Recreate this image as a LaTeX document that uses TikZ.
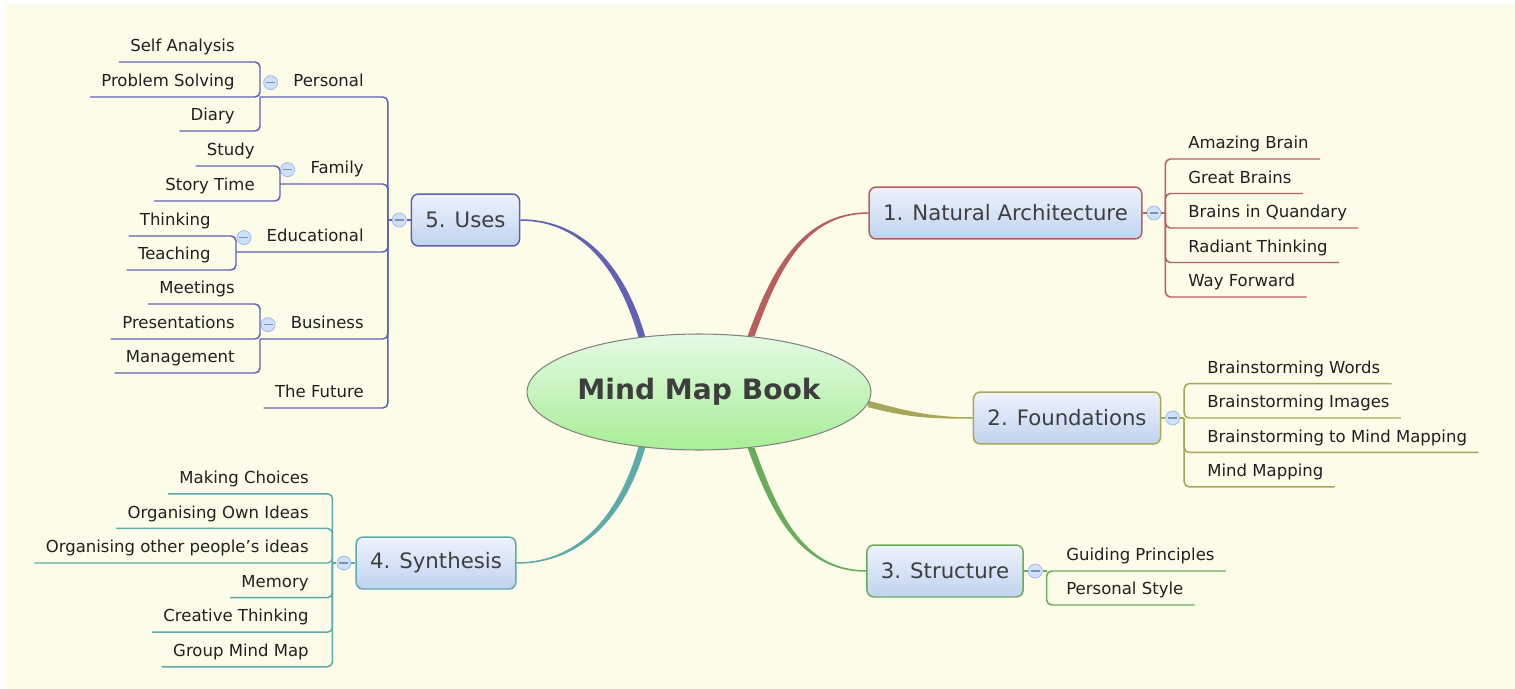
\documentclass[tikz,border=0pt]{standalone}
\usepackage{fontspec}
\setmainfont{DejaVu Sans}
\usetikzlibrary{shapes.geometric,positioning,backgrounds}

\definecolor{cream}{RGB}{252,252,233}
\definecolor{leafgray}{RGB}{32,32,32}
\definecolor{topicgray}{RGB}{62,62,62}
\definecolor{nacol}{RGB}{183,94,94}
\definecolor{fdcol}{RGB}{168,166,88}
\definecolor{stcol}{RGB}{104,172,92}
\definecolor{sycol}{RGB}{92,170,170}
\definecolor{uscol}{RGB}{98,98,180}
\definecolor{boxtop}{RGB}{238,243,252}
\definecolor{boxbot}{RGB}{192,211,240}
\definecolor{elltop}{RGB}{228,250,228}
\definecolor{ellbot}{RGB}{168,238,150}
\definecolor{ellline}{RGB}{130,130,130}
\definecolor{dotfill}{RGB}{206,224,250}
\definecolor{dotline}{RGB}{165,192,235}

\begin{document}
\begin{tikzpicture}[x=0.02cm,y=-0.02cm,
  leaf/.style={font=\fontsize{9.4}{11}\selectfont, text=leafgray, inner xsep=0.22cm, inner ysep=0.12cm, text height=0.24cm, text depth=0.08cm},
  topic/.style={draw=#1, line width=0.85pt, rounded corners=0.14cm, top color=boxtop, bottom color=boxbot, text=topicgray, font=\fontsize{12.1}{14}\selectfont, inner xsep=0.28cm, minimum height=1.04cm},
  collapse/.style={circle, draw=dotline, fill=dotfill, minimum size=0.28cm, inner sep=0pt, line width=0.5pt, path picture={\draw[dotline!75!black, line width=0.6pt] ([xshift=-0.09cm]path picture bounding box.center) -- ([xshift=0.09cm]path picture bounding box.center);}},
  branch/.style={draw=#1, line width=0.85pt, rounded corners=0.1cm}]
\useasboundingbox (0,0) rectangle (1515,689);

\node[ellipse, minimum width=6.8cm, minimum height=2.32cm, inner sep=0pt, draw=ellline, line width=0.6pt, top color=elltop, bottom color=ellbot, text=topicgray, font=\bfseries\fontsize{16}{19}\selectfont] (book) at (699,392) {Mind Map Book};

\node[topic=nacol] (na) at (1005.5,213) {1. Natural Architecture};
\node[topic=fdcol] (fd) at (1067,418) {2. Foundations};
\node[topic=stcol] (st) at (945,571) {3. Structure};
\node[topic=sycol] (sy) at (436,563) {4. Synthesis};
\node[topic=uscol] (us) at (465.5,220) {5. Uses};

\node[collapse, right=0.08cm of na] (na-c) {};
\node[collapse, right=0.08cm of fd] (fd-c) {};
\node[collapse, right=0.08cm of st] (st-c) {};
\node[collapse, left=0.08cm of sy] (sy-c) {};
\node[collapse, left=0.08cm of us] (us-c) {};
\coordinate (na-hub) at ([xshift=0.08cm]na-c.east);
\coordinate (fd-hub) at ([xshift=0.08cm]fd-c.east);
\coordinate (st-hub) at ([xshift=0.08cm]st-c.east);
\coordinate (sy-hub) at ([xshift=-0.08cm]sy-c.west);
\coordinate (us-hub) at ([xshift=-0.08cm]us-c.west);

\foreach \t [count=\i] in {Amazing Brain,Great Brains,Brains in Quandary,Radiant Thinking,Way Forward}
  \node[leaf, anchor=south west] (na\i) at (1177,124.5+34.5*\i) {\t};
\foreach \t [count=\i] in {Brainstorming Words,Brainstorming Images,Brainstorming to Mind Mapping,Mind Mapping}
  \node[leaf, anchor=south west] (fd\i) at (1196,349.2+34.4*\i) {\t};
\foreach \t [count=\i] in {Guiding Principles,Personal Style}
  \node[leaf, anchor=south west] (st\i) at (1055,537+34*\i) {\t};
\foreach \t [count=\i] in {Making Choices,Organising Own Ideas,Organising other people's ideas,Memory,Creative Thinking,Group Mind Map}
  \node[leaf, anchor=south east] (sy\i) at (320,459.2+34.6*\i) {\t};

\foreach \t/\y [count=\i] in {Personal/97,Family/184,Educational/252,Business/339,The Future/408}
  \node[leaf, anchor=south east] (us\i) at (375,\y) {\t};
\foreach \i in {1,...,4}
  \node[collapse, left=0.08cm of us\i] (us\i-c) {};
\coordinate (pe-hub) at (260,97);
\coordinate (fa-hub) at (280,184);
\coordinate (ed-hub) at (236,252);
\coordinate (bu-hub) at (260,339);
\foreach \t/\y [count=\i] in {Self Analysis/62,Problem Solving/97,Diary/131}
  \node[leaf, anchor=south east] (pe\i) at (246,\y) {\t};
\foreach \t/\y [count=\i] in {Study/166,Story Time/201}
  \node[leaf, anchor=south east] (fa\i) at (266,\y) {\t};
\foreach \t/\y [count=\i] in {Thinking/236,Teaching/270}
  \node[leaf, anchor=south east] (ed\i) at (222,\y) {\t};
\foreach \t/\y [count=\i] in {Meetings/304,Presentations/339,Management/373}
  \node[leaf, anchor=south east] (bu\i) at (246,\y) {\t};

\draw[branch=nacol] (na.east) -- (na-c.west) (na-c.east) -- (na-hub);
\foreach \i in {1,...,5} \draw[branch=nacol] (na-hub) |- (na\i.south east);
\draw[branch=fdcol] (fd.east) -- (fd-c.west) (fd-c.east) -- (fd-hub);
\draw[branch=fdcol] (fd-hub -| fd2.south east) -- (fd-hub) |- (fd1.south east);
\foreach \i in {3,4} \draw[branch=fdcol] (fd-hub) |- (fd\i.south east);
\draw[branch=stcol] (st.east) -- (st-c.west) (st-c.east) -- (st-hub);
\draw[branch=stcol] (st-hub -| st1.south east) -- (st-hub) |- (st2.south east);
\draw[branch=sycol] (sy.west) -- (sy-c.east) (sy-c.west) -- (sy-hub);
\draw[branch=sycol] (sy-hub -| sy3.south west) -- (sy-hub) |- (sy1.south west);
\foreach \i in {2,4,5,6} \draw[branch=sycol] (sy-hub) |- (sy\i.south west);
\draw[branch=uscol] (us.west) -- (us-c.east) (us-c.west) -- (us-hub);
\foreach \h in {pe,fa,ed,bu} \draw[branch=uscol] (us-hub) |- (\h-hub);
\draw[branch=uscol] (us-hub) |- (us5.south west);
\draw[branch=uscol] (pe-hub -| pe2.south west) -- (pe-hub) |- (pe1.south west);
\draw[branch=uscol] (pe-hub) |- (pe3.south west);
\foreach \i in {1,2} \draw[branch=uscol] (fa-hub) |- (fa\i.south west);
\foreach \i in {1,2} \draw[branch=uscol] (ed-hub) |- (ed\i.south west);
\draw[branch=uscol] (bu-hub -| bu2.south west) -- (bu-hub) |- (bu1.south west);
\draw[branch=uscol] (bu-hub) |- (bu3.south west);

\begin{pgfonlayer}{background}
\fill[cream] (6,4) rectangle (1515,689);
\fill[uscol] ([xshift=0.07cm]book.136) to[out=106,in=0] ([yshift=0.015cm]us.east) -- ([yshift=-0.015cm]us.east) to[out=0,in=106] ([xshift=-0.07cm]book.136) -- cycle;
\fill[nacol] ([xshift=-0.07cm]book.47) to[out=70,in=180] ([yshift=0.015cm]na.west) -- ([yshift=-0.015cm]na.west) to[out=180,in=70] ([xshift=0.07cm]book.47) -- cycle;
\fill[fdcol] ([yshift=0.065cm]book.-4) to[out=-15,in=180] ([yshift=0.015cm]fd.west) -- ([yshift=-0.015cm]fd.west) to[out=180,in=-15] ([yshift=-0.065cm]book.-4) -- cycle;
\fill[stcol] ([xshift=-0.07cm]book.-47) to[out=-70,in=180] ([yshift=-0.015cm]st.west) -- ([yshift=0.015cm]st.west) to[out=180,in=-70] ([xshift=0.07cm]book.-47) -- cycle;
\fill[sycol] ([xshift=0.07cm]book.-136) to[out=-106,in=0] ([yshift=-0.015cm]sy.east) -- ([yshift=0.015cm]sy.east) to[out=0,in=-106] ([xshift=-0.07cm]book.-136) -- cycle;
\end{pgfonlayer}
\end{tikzpicture}
\end{document}
